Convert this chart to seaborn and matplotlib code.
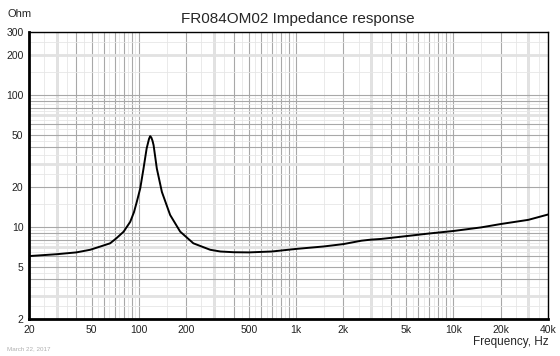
import matplotlib
matplotlib.use("Agg")
import matplotlib.pyplot as plt
import matplotlib.ticker as mticker
import numpy as np
import pandas as pd
import seaborn as sns

# ========================================================================
# DATA
# ========================================================================
freq_hz = [20, 30, 40, 49, 57, 65.6, 72, 80, 88, 93, 97, 102, 107, 112,
           116, 118, 120, 122, 124, 130, 140, 158, 183, 222, 284, 330,
           400, 500, 700, 1000, 1500, 2000, 2600, 3000, 3500, 5000, 7000,
           10000, 15000, 20000, 30000, 40000]
impedance_ohm = [6.0, 6.2, 6.4, 6.7, 7.1, 7.5, 8.2, 9.2, 10.9, 12.9,
                 15.5, 19.6, 27.7, 39.3, 46.5, 48.7, 47.5, 45.0, 41.6,
                 27.7, 18.4, 12.3, 9.2, 7.5, 6.7, 6.5, 6.42, 6.4, 6.5,
                 6.8, 7.1, 7.4, 7.85, 8.0, 8.1, 8.5, 8.9, 9.3, 9.9, 10.5,
                 11.3, 12.4]

x_ticks = [20, 50, 100, 200, 500, 1000, 2000, 5000, 10000, 20000, 40000]
x_tick_labels = ['20', '50', '100', '200', '500', '1k', '2k', '5k', '10k', '20k', '40k']
y_ticks = [2, 5, 10, 20, 50, 100, 200, 300]
y_tick_labels = ['2', '5', '10', '20', '50', '100', '200', '300']

df = pd.DataFrame({'Frequency': freq_hz, 'Impedance': impedance_ohm})

# ========================================================================
# FIGURE
# ========================================================================
sns.set_style('white')
plt.rcParams['font.family'] = ['Liberation Sans', 'DejaVu Sans']

fig = plt.figure(figsize=(5.6, 3.56), dpi=100)
ax = fig.add_axes([0.0518, 0.1039, 0.9268, 0.8061])
ax.set_xscale('log')
ax.set_yscale('log')
ax.set_xlim(20, 40000)
ax.set_ylim(2, 300)

# GRID LINES (drawn by hand to get the REW-like look)
for dec in [10, 100, 1000, 10000]:
    for k in range(1, 10):
        for v in [dec * k, dec * (k + 0.5)]:
            if 20 <= v <= 40000:
                major = v == dec * k
                ax.axvline(v, color='#a8a8a8' if major else '#e6e6e6',
                           lw=0.8 if major else 0.6, zorder=0)
        if 20 <= dec * 3 <= 40000:
            ax.axvline(dec * 3, color='#e2e2e2', lw=2.0, zorder=0)
for dec in [1, 10, 100]:
    for k in range(1, 10):
        for v in [dec * k, dec * (k + 0.5)]:
            if 2 <= v <= 300:
                major = v == dec * k
                ax.axhline(v, color='#a8a8a8' if major else '#e6e6e6',
                           lw=0.8 if major else 0.6, zorder=0)
for v in [3, 7, 30, 70, 200]:
    ax.axhline(v, color='#e2e2e2', lw=2.0, zorder=0)

# IMPEDANCE CURVE
sns.lineplot(data=df, x='Frequency', y='Impedance', ax=ax,
             color='black', lw=1.4, zorder=3)

# TICKS
ax.xaxis.set_major_locator(mticker.FixedLocator(x_ticks))
ax.xaxis.set_major_formatter(mticker.FixedFormatter(x_tick_labels))
ax.xaxis.set_minor_locator(mticker.NullLocator())
ax.yaxis.set_major_locator(mticker.FixedLocator(y_ticks))
ax.yaxis.set_major_formatter(mticker.FixedFormatter(y_tick_labels))
ax.yaxis.set_minor_locator(mticker.NullLocator())
ax.tick_params(axis='both', length=0, labelsize=7.5, colors='#222222', pad=4)
ax.set_xlabel('')
ax.set_ylabel('')

# SPINES
for side in ['top', 'right']:
    ax.spines[side].set_linewidth(1.0)
    ax.spines[side].set_color('black')
for side in ['left', 'bottom']:
    ax.spines[side].set_linewidth(2.0)
    ax.spines[side].set_color('black')

# TEXTS
fig.text(0.532, 0.948, 'FR084OM02 Impedance response', ha='center',
         va='center', fontsize=11)
fig.text(0.014, 0.962, 'Ohm', ha='left', va='center', fontsize=8)
fig.text(0.979, 0.038, 'Frequency, Hz', ha='right', va='center', fontsize=8.5)
fig.text(0.012, 0.012, 'March 22, 2017', ha='left', va='bottom',
         fontsize=4.5, color='#b0b0b0')

fig.savefig('out.png', dpi=100)
